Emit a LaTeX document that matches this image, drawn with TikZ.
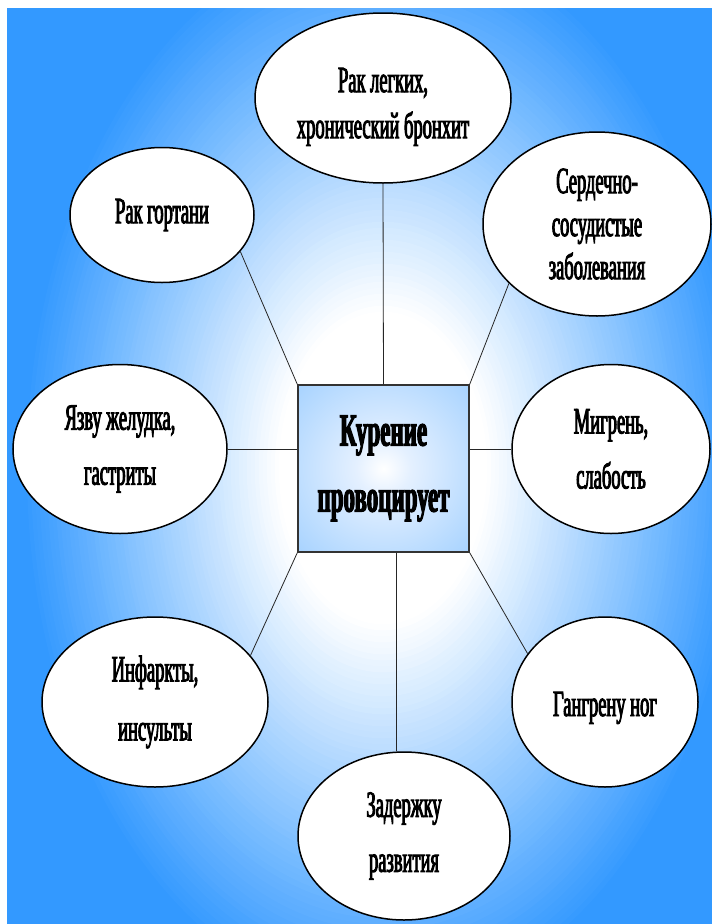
\documentclass[tikz,border=0pt]{standalone}
\usepackage{fontspec}
\newfontfamily\narrowfont[FakeStretch=0.5,FakeBold=2.5]{Liberation Serif}
\usetikzlibrary{shapes,calc}

\definecolor{bgblue}{RGB}{51,153,255}
\definecolor{boxblue}{RGB}{153,204,255}
\definecolor{boxpale}{RGB}{228,240,255}
\pgfdeclareradialshading{boxglow}{\pgfpoint{0bp}{0bp}}{color(0bp)=(white); color(8bp)=(boxpale); color(42bp)=(boxblue); color(80bp)=(boxblue)}

\tikzset{
 illness/.style={ellipse, draw=black, line width=1.5pt, fill=white, inner sep=0pt, align=center, font=\narrowfont\fontsize{37}{43}\selectfont},
 link/.style={draw=black!85, line width=0.8pt}
}

\begin{document}
\begin{tikzpicture}[x=1pt,y=-1pt]
%background
\useasboundingbox (0,0) rectangle (712,924);
\fill[white] (0,0) rectangle (712,924);
\begin{scope}
\clip (7,8) rectangle (712,924);
\fill[bgblue] (7,8) rectangle (712,924);
\foreach \i in {0,...,104}{
 \pgfmathsetmacro\rr{1.3-\i*0.01}
 \pgfmathsetmacro\rx{400*\rr}
 \pgfmathsetmacro\ry{600*\rr}
 \pgfmathtruncatemacro\p{max(0,min(100,(\rr-0.26)/0.64*100))}
 \fill[bgblue!\p!white] (383,468) ellipse [x radius=\rx, y radius=\ry];
}
\end{scope}
%centre
\node[rectangle, draw=black!80, line width=1.4pt, shade, shading=boxglow, minimum width=171pt, minimum height=167pt, inner sep=0pt, align=center, font=\narrowfont\bfseries\fontsize{46}{66}\selectfont] (box) at (383.5,468.5) {Курение\\провоцирует};
%ellipses
\node[illness, minimum width=256pt, minimum height=170pt] (lung) at (383,98) {\rule{0pt}{42pt}Рак легких,\\[3pt]хронический бронхит};
\node[illness, minimum width=184pt, minimum height=135pt] (larynx) at (162,215) {Рак гортани};
\node[illness, minimum width=228pt, minimum height=184pt] (heart) at (597,224) {Сердечно-\\сосудистые\\заболевания};
\node[illness, minimum width=214pt, minimum height=169pt] (ulcer) at (120,449) {Язву желудка,\\[12pt]гастриты};
\node[illness, minimum width=198pt, minimum height=169pt] (migraine) at (611,449) {Мигрень,\\[12pt]слабость};
\node[illness, minimum width=226pt, minimum height=170pt] (infarct) at (155,702) {Инфаркты,\\[16pt]инсульты};
\node[illness, minimum width=186pt, minimum height=170pt] (gangrene) at (605,702) {\rule{0pt}{36pt}Гангрену ног};
\node[illness, minimum width=212pt, minimum height=168pt] (delay) at (404,836) {Задержку\\[12pt]развития};
%links
\draw[link] (box.north) -- (lung.south);
\draw[link] (ulcer.east) -- (ulcer.east -| box.west);
\draw[link] (migraine.west -| box.east) -- (migraine.west);
\draw[link] (delay.95 |- box.south) -- (delay.95);
\foreach \corner/\target in {north west/larynx.-25, north east/heart.214, south west/infarct.26, south east/gangrene.148}
\draw[link] (box.\corner) -- (\target);
\end{tikzpicture}
\end{document}
